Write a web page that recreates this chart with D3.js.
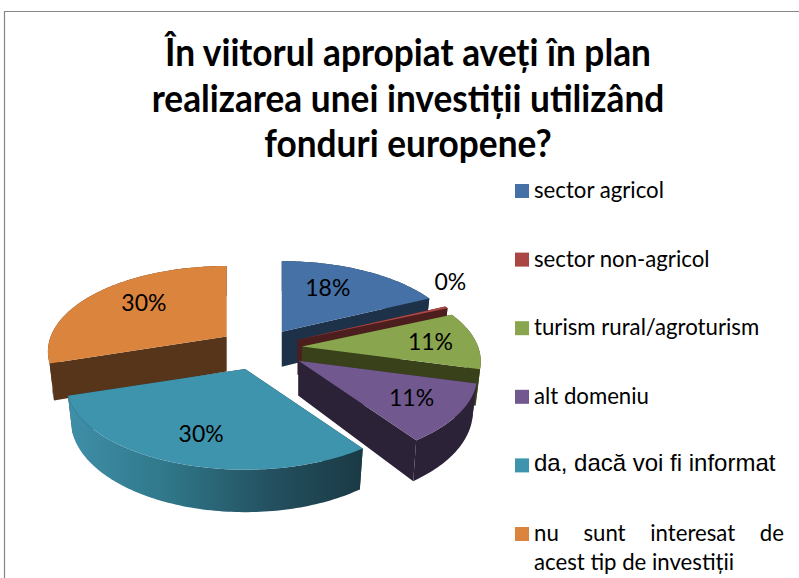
<!DOCTYPE html>
<html>
<head>
<meta charset="utf-8">
<script src="https://cdn.jsdelivr.net/npm/d3@7"></script>
<style>
  html, body { margin: 0; padding: 0; background: #fff; }
  svg { display: block; }
</style>
</head>
<body>
<svg id="chart" width="799" height="578"></svg>
<script>
// data
const categories = ["sector agricol", "sector non-agricol", "turism rural/agroturism", "alt domeniu", "da, dacă voi fi informat", "nu sunt interesat de acest tip de investiții"];
const shares = [0.179, 0.004, 0.109, 0.111, 0.2975, 0.2995];
const topColors = ["#4571a7", "#aa4643", "#89a54e", "#71588f", "#3f94ad", "#db843d"];
const sideColors = ["#1d3249", "#4c1f1e", "#384119", "#2c2238", "#2f7a8c", "#57351a"];
const titleLines = ["În viitorul apropiat aveți în plan", "realizarea unei investiții utilizând", "fonduri europene?"];

const svg = d3.select("#chart");
const sans = "Lato, sans-serif";

// frame
svg.append("path")
  .attr("d", "M4.5,578V11.5H799")
  .attr("fill", "none")
  .attr("stroke", "#868686")
  .attr("stroke-width", 1.2);

// title, squeezed a bit because the original font is narrower
svg.selectAll(".title").data(titleLines).join("text")
  .attr("class", "title")
  .attr("x", 408)
  .attr("y", (d, i) => 66 + i * 45.5)
  .attr("text-anchor", "middle")
  .attr("font-family", sans)
  .attr("font-weight", "bold")
  .attr("font-size", 38)
  .attr("fill", "#000")
  .text(d => d)
  .each(function() {
    d3.select(this)
      .attr("lengthAdjust", "spacingAndGlyphs")
      .attr("textLength", this.getComputedTextLength() * 0.928);
  });

// pie geometry: a tilted disc with some perspective, so the front looks bigger
const cx = 260, cy = 348;
const rx = 176, ry = 83, persp = 0.176;
const depth = 35, bottomShrink = 0.975;
const explode = [0.24, 0.24, 0.24, 0.26, 0.255, 0.24];

function local(angle) {
  const X = Math.sin(angle);
  const Y = -Math.cos(angle);
  const w = 1 / (1 - persp * Y);
  return { x: rx * X * w, y: ry * Y * w, w: w };
}

const pie = d3.pie().sort(null).value(d => d);
const slices = pie(shares).map((s, i) => {
  const mid = (s.startAngle + s.endAngle) / 2;
  const ex = explode[i] * Math.sin(mid), ey = -explode[i] * Math.cos(mid);
  const w = 1 / (1 - persp * ey);
  return { i: i, a0: s.startAngle, a1: s.endAngle, mid: mid, share: s.value, ax: cx + rx * ex * w, ay: cy + ry * ey * w };
});

const line = d3.line();
function topPt(s, a) {
  const p = local(a);
  return [s.ax + p.x, s.ay + p.y];
}
function botPt(s, a) {
  const p = local(a);
  return [s.ax + p.x * bottomShrink, s.ay + p.y + depth * p.w];
}
function angles(s) {
  const n = Math.max(2, Math.ceil((s.a1 - s.a0) / 0.02));
  return d3.range(n + 1).map(k => s.a0 + (s.a1 - s.a0) * k / n);
}

// rim gradient of the teal slice
const grad = svg.append("defs").append("linearGradient")
  .attr("id", "rimTeal").attr("x1", 0).attr("x2", 1).attr("y1", 0).attr("y2", 0);
grad.selectAll("stop").data([["0%", "#3f8fa9"], ["35%", "#2f7688"], ["70%", "#234f5e"], ["100%", "#1a3a45"]]).join("stop")
  .attr("offset", d => d[0]).attr("stop-color", d => d[1]);

// back to front
const drawOrder = [0, 1, 2, 3, 5, 4];
const pieG = svg.append("g");
drawOrder.map(i => slices[i]).forEach(s => {
  const g = pieG.append("g");
  const side = sideColors[s.i];
  const apexTop = [s.ax, s.ay];
  const apexBot = [s.ax, s.ay + depth];
  [s.a0, s.a1].forEach(a => {
    g.append("path")
      .attr("d", line([apexTop, topPt(s, a), botPt(s, a), apexBot]) + "Z")
      .attr("fill", s.i === 4 ? "#1a3a45" : side);
  });
  const as = angles(s);
  g.append("path")
    .attr("d", line(as.map(a => topPt(s, a)).concat(as.slice().reverse().map(a => botPt(s, a)))) + "Z")
    .attr("fill", s.i === 4 ? "url(#rimTeal)" : side);
  g.append("path")
    .attr("d", line([apexTop].concat(as.map(a => topPt(s, a)))) + "Z")
    .attr("fill", topColors[s.i]);
});

// percentage labels, small nudges where the original was moved by hand
const labelFrac = 0.65;
const labelNudge = [[-7, -4], [0, 0], [16, 0], [9, 3], [0, 4], [1, -5]];
const pct = d3.format(".0%");
svg.selectAll(".pct").data(slices).join("text")
  .attr("class", "pct")
  .attr("x", s => {
    if (s.i === 1) return s.ax + local(s.mid).x + 4;
    return s.ax + local(s.mid).x * labelFrac + labelNudge[s.i][0];
  })
  .attr("y", s => {
    if (s.i === 1) return s.ay + local(s.mid).y - 25;
    return s.ay + local(s.mid).y * labelFrac + labelNudge[s.i][1];
  })
  .attr("text-anchor", "middle")
  .attr("dy", "0.35em")
  .attr("font-family", sans)
  .attr("font-size", 23)
  .attr("fill", "#000")
  .text(s => pct(s.share));

// legend
const legendY = d3.scaleLinear().domain([0, 5]).range([184, 527]);
const legendSize = 22.2;
const legend = svg.selectAll(".legend").data(categories).join("g")
  .attr("class", "legend");
legend.append("rect")
  .attr("x", 515)
  .attr("y", (d, i) => legendY(i))
  .attr("width", 14)
  .attr("height", 14)
  .attr("fill", (d, i) => topColors[i]);

categories.forEach((name, i) => {
  const y = legendY(i) + 14;
  const g = legend.filter((d, k) => k === i);
  if (i === 5) {
    // last entry wraps and is justified like in the document
    const first = g.append("text").attr("x", 534).attr("y", y).attr("font-family", sans).attr("font-size", legendSize).text("nu sunt interesat de");
    const room = 784 - 534 - first.node().getComputedTextLength();
    first.attr("word-spacing", room / 3);
    g.append("text").attr("x", 534).attr("y", y + 29).attr("font-family", sans).attr("font-size", legendSize).text("acest tip de investiții");
  } else {
    g.append("text")
      .attr("x", 534)
      .attr("y", i === 4 ? y - 1 : y)
      .attr("font-family", i === 4 ? "'Liberation Sans', Arial, sans-serif" : sans)
      .attr("font-size", i === 4 ? 24 : legendSize)
      .text(name);
  }
});
</script>
</body>
</html>
